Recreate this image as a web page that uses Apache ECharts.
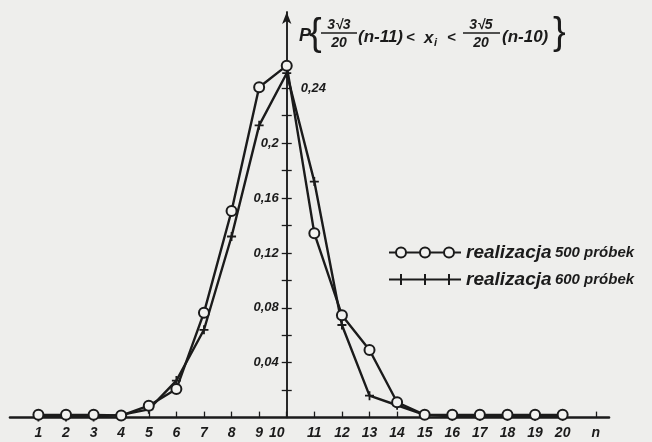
<!DOCTYPE html>
<html><head><meta charset="utf-8">
<script src="https://cdn.jsdelivr.net/npm/echarts@6/dist/echarts.min.js"></script>
<style>html,body{margin:0;padding:0;background:#eeeeec}#c{width:652px;height:442px}</style>
</head><body><div id="c"></div>
<script>
// ---- data ----
const nValues = [1,2,3,4,5,6,7,8,9,10,11,12,13,14,15,16,17,18,19,20];
const p500 = [0.002,0.002,0.002,0.0015,0.0087,0.0208,0.0765,0.1506,0.2408,0.2565,0.1343,0.0746,0.0493,0.0112,0.002,0.002,0.002,0.002,0.002,0.002];
const p600 = [0.0005,0.0005,0.0005,0.002,0.006,0.027,0.064,0.132,0.213,0.251,0.172,0.0675,0.016,0.009,0.002,0.001,0.001,0.001,0.001,0.001];
const xTickLabels = ['1','2','3','4','5','6','7','8','9','10','11','12','13','14','15','16','17','18','19','20','n'];
const yTickValues = [0.04,0.08,0.12,0.16,0.2,0.24];
const yTickLabels = ['0,04','0,08','0,12','0,16','0,2','0,24'];
const yMinorTicks = [0.02,0.04,0.06,0.08,0.10,0.12,0.14,0.16,0.18,0.20,0.22,0.24];
const seriesNames = ['realizacja 500 próbek','realizacja 600 próbek'];

// ---- layout ----
const AXIS_AT = 10;       // y axis crosses the x axis at n = 10
const N_LABEL_POS = 21.2; // where the "n" label sits
const X_MIN = -10.03, X_MAX = 11.68;
const GRID_L = 10, GRID_R = 43;
const ink = '#1b1b1b';
const FF = 'Liberation Sans, Arial, sans-serif';

const plotW = 652 - GRID_L - GRID_R;
const axisPx = plotW * (0 - X_MIN) / (X_MAX - X_MIN); // px of x=0 from grid left

const xCustom = nValues.map(n => n - AXIS_AT).concat([N_LABEL_POS - AXIS_AT]);
function xLabel(v) {
  const i = xCustom.findIndex(c => Math.abs(c - v) < 1e-6);
  const t = i >= 0 ? xTickLabels[i] : '';
  if (Math.abs(v) < 1e-6) return '{s|' + t + '}';
  return t;
}
function yLabel(v) {
  const i = yTickValues.findIndex(c => Math.abs(c - v) < 1e-9);
  return i >= 0 ? yTickLabels[i] : '';
}
const labelFont = {color: ink, fontStyle: 'italic', fontWeight: 'bold', fontFamily: FF};

const chart = echarts.init(document.getElementById('c'), null, {renderer: 'canvas'});
const option = {
  backgroundColor: '#eeeeec',
  animation: false,
  grid: {left: GRID_L, right: GRID_R, top: 12, bottom: 24.4, containLabel: false, outerBoundsMode: 'none'},
  xAxis: {
    type: 'value', min: X_MIN, max: X_MAX,
    splitLine: {show: false},
    axisLine: {onZero: true, lineStyle: {color: ink, width: 2.6}},
    axisTick: {show: true, inside: true, length: 6, customValues: xCustom, lineStyle: {color: ink, width: 1.3}},
    axisLabel: Object.assign({customValues: xCustom, formatter: xLabel, margin: 9, fontSize: 14,
      rich: {s: Object.assign({fontSize: 14, padding: [0, 20, 0, 0]}, labelFont)}}, labelFont)
  },
  yAxis: [{
    type: 'value', min: 0, max: 0.2956, position: 'left', offset: -axisPx,
    splitLine: {show: false},
    axisLine: {show: true, onZero: false, symbol: ['none', 'arrow'], symbolSize: [7, 12], lineStyle: {color: ink, width: 1.5}},
    axisTick: {show: true, length: 5, customValues: yMinorTicks, lineStyle: {color: ink, width: 1.3}},
    axisLabel: Object.assign({customValues: yTickValues.slice(0, 5), formatter: yLabel, margin: 8, fontSize: 13}, labelFont)
  }, {
    type: 'value', min: 0, max: 0.2956, position: 'right', offset: -(plotW - axisPx),
    splitLine: {show: false},
    axisLine: {show: true, onZero: false, lineStyle: {color: ink, width: 1.5}},
    axisTick: {show: true, length: 5, customValues: yMinorTicks, lineStyle: {color: ink, width: 1.3}},
    axisLabel: Object.assign({customValues: [yTickValues[5]], formatter: yLabel, margin: 14, fontSize: 13}, labelFont)
  }],
  legend: {
    left: 383, top: 238, orient: 'vertical', itemWidth: 72, itemHeight: 11, itemGap: 8,
    data: [
      {name: seriesNames[0], icon: 'path://M0,5.5H7M17,5.5H31M41,5.5H55M65,5.5H72M17,5.5A5,5,0,1,1,7,5.5A5,5,0,1,1,17,5.5M41,5.5A5,5,0,1,1,31,5.5A5,5,0,1,1,41,5.5M65,5.5A5,5,0,1,1,55,5.5A5,5,0,1,1,65,5.5',
       itemStyle: {color: '#f2f2f0', borderColor: ink, borderWidth: 2}},
      {name: seriesNames[1], icon: 'path://M0,4.5H72V6.5H0ZM11,0H13V11H11ZM35,0H37V11H35ZM59,0H61V11H59Z',
       itemStyle: {color: ink, borderWidth: 0}}
    ],
    formatter: function (name) {
      const parts = name.split(' ');
      return '{a|' + parts[0] + '} {b|' + parts.slice(1).join(' ') + '}';
    },
    textStyle: {
      color: ink,
      rich: {
        a: Object.assign({fontSize: 19}, labelFont),
        b: Object.assign({fontSize: 15}, labelFont)
      }
    }
  },
  series: [{
    type: 'line', name: seriesNames[0], yAxisIndex: 0,
    data: nValues.map((n, i) => [n - AXIS_AT, p500[i]]),
    symbol: 'circle', symbolSize: 10, showAllSymbol: true, z: 4,
    lineStyle: {color: ink, width: 2.4},
    itemStyle: {color: '#f2f2f0', borderColor: ink, borderWidth: 2}
  }, {
    type: 'line', name: seriesNames[1], yAxisIndex: 0,
    data: nValues.map((n, i) => [n - AXIS_AT, p600[i]]),
    symbol: 'path://M4,0h2v4h4v2h-4v4h-2v-4h-4v-2h4z', symbolSize: 9, showAllSymbol: true, z: 3,
    lineStyle: {color: ink, width: 2.4},
    itemStyle: {color: ink}
  }],
  graphic: [
    {type: 'text', x: 299, y: 36, style: {text: 'P', font: 'italic bold 18px ' + FF, fill: ink, verticalAlign: 'middle'}},
    {type: 'text', x: 309, y: 35, style: {text: '{', font: '38px ' + FF, fill: ink, verticalAlign: 'middle'}},
    {type: 'text', x: 339, y: 25, style: {text: '3√3', font: 'italic bold 14px ' + FF, fill: ink, align: 'center', verticalAlign: 'middle'}},
    {type: 'line', shape: {x1: 321, y1: 33, x2: 357, y2: 33}, style: {stroke: ink, lineWidth: 1.6}},
    {type: 'text', x: 339, y: 43, style: {text: '20', font: 'italic bold 14px ' + FF, fill: ink, align: 'center', verticalAlign: 'middle'}},
    {type: 'text', x: 358, y: 37, style: {text: '(n-11)', font: 'italic bold 17px ' + FF, fill: ink, verticalAlign: 'middle'}},
    {type: 'text', x: 406, y: 38, style: {text: '<', font: 'italic bold 15px ' + FF, fill: ink, verticalAlign: 'middle'}},
    {type: 'text', x: 424, y: 38, style: {text: 'x', font: 'italic bold 17px ' + FF, fill: ink, verticalAlign: 'middle'}},
    {type: 'text', x: 434, y: 43, style: {text: 'i', font: 'italic bold 11px ' + FF, fill: ink, verticalAlign: 'middle'}},
    {type: 'text', x: 447, y: 38, style: {text: '<', font: 'italic bold 15px ' + FF, fill: ink, verticalAlign: 'middle'}},
    {type: 'text', x: 481, y: 25, style: {text: '3√5', font: 'italic bold 14px ' + FF, fill: ink, align: 'center', verticalAlign: 'middle'}},
    {type: 'line', shape: {x1: 463, y1: 33, x2: 500, y2: 33}, style: {stroke: ink, lineWidth: 1.6}},
    {type: 'text', x: 481, y: 43, style: {text: '20', font: 'italic bold 14px ' + FF, fill: ink, align: 'center', verticalAlign: 'middle'}},
    {type: 'text', x: 502, y: 37, style: {text: '(n-10)', font: 'italic bold 17px ' + FF, fill: ink, verticalAlign: 'middle'}},
    {type: 'text', x: 553, y: 34, style: {text: '}', font: '38px ' + FF, fill: ink, verticalAlign: 'middle'}}
  ]
};
chart.setOption(option);
</script>
</body></html>
